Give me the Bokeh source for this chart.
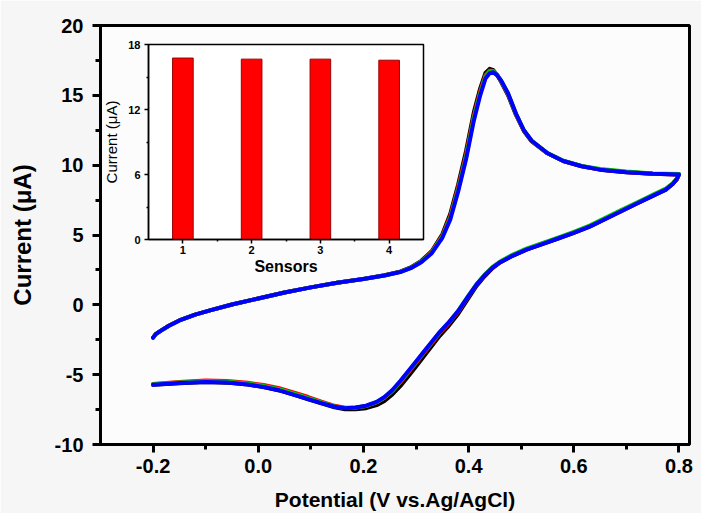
from bokeh.plotting import figure
from bokeh.models import (SingleIntervalTicker, FixedTicker, PrintfTickFormatter,
                          Range1d, ColumnDataSource)
from bokeh.embed import file_html
from bokeh.resources import INLINE

# ---------------- data ----------------
fwd_potential = [-0.200, -0.195, -0.185, -0.170, -0.150, -0.120, -0.090, -0.050, 0.000, 0.050,
                 0.100, 0.150, 0.200, 0.240, 0.270, 0.290, 0.310, 0.330, 0.350, 0.365,
                 0.380, 0.395, 0.410, 0.422, 0.432, 0.440, 0.447, 0.454, 0.462, 0.475,
                 0.490, 0.505, 0.520, 0.550, 0.580, 0.615, 0.650, 0.700, 0.750, 0.800]

fwd_sensor1 = [-2.35, -2.10, -1.85, -1.50, -1.12, -0.70, -0.38, 0.02, 0.45, 0.88,
               1.25, 1.58, 1.86, 2.12, 2.38, 2.68, 3.15, 3.85, 5.05, 6.50,
               8.60, 11.00, 13.80, 15.50, 16.60, 16.90, 16.80, 16.45, 15.95, 15.00,
               13.60, 12.45, 11.70, 10.85, 10.30, 9.92, 9.68, 9.50, 9.38, 9.33]
fwd_sensor2 = [-2.35, -2.10, -1.85, -1.50, -1.12, -0.70, -0.38, 0.02, 0.45, 0.88,
               1.25, 1.58, 1.85, 2.11, 2.37, 2.65, 3.10, 3.80, 4.95, 6.35,
               8.40, 10.75, 13.55, 15.30, 16.45, 16.78, 16.75, 16.48, 16.00, 15.08,
               13.65, 12.48, 11.72, 10.85, 10.30, 9.93, 9.69, 9.51, 9.39, 9.34]
fwd_sensor3 = [-2.35, -2.10, -1.85, -1.50, -1.12, -0.70, -0.38, 0.02, 0.45, 0.88,
               1.25, 1.58, 1.85, 2.10, 2.36, 2.64, 3.08, 3.75, 4.88, 6.22,
               8.25, 10.55, 13.40, 15.15, 16.35, 16.72, 16.72, 16.47, 16.03, 15.12,
               13.68, 12.50, 11.74, 10.86, 10.32, 9.95, 9.72, 9.54, 9.41, 9.36]
fwd_sensor4 = [-2.35, -2.10, -1.85, -1.50, -1.12, -0.70, -0.38, 0.02, 0.45, 0.88,
               1.25, 1.58, 1.85, 2.10, 2.35, 2.62, 3.05, 3.70, 4.80, 6.10,
               8.10, 10.40, 13.20, 15.00, 16.20, 16.58, 16.65, 16.45, 16.05, 15.15,
               13.70, 12.50, 11.75, 10.85, 10.30, 9.92, 9.68, 9.50, 9.38, 9.33]

rev_potential = [0.800, 0.796, 0.788, 0.775, 0.750, 0.720, 0.690, 0.660, 0.630, 0.600,
                 0.570, 0.540, 0.510, 0.480, 0.460, 0.445, 0.430, 0.415, 0.400, 0.380,
                 0.360, 0.345, 0.330, 0.315, 0.300, 0.285, 0.270, 0.255, 0.240, 0.225,
                 0.205, 0.185, 0.165, 0.145, 0.120, 0.095, 0.070, 0.040, 0.010, -0.020,
                 -0.060, -0.100, -0.150, -0.200]

rev_sensor1 = [9.33, 9.00, 8.65, 8.25, 7.80, 7.25, 6.70, 6.15, 5.60, 5.15,
               4.75, 4.35, 3.95, 3.44, 3.03, 2.61, 2.03, 1.35, 0.50, -0.65,
               -1.60, -2.22, -2.95, -3.68, -4.42, -5.13, -5.82, -6.42, -6.88, -7.18,
               -7.40, -7.48, -7.47, -7.34, -7.06, -6.76, -6.47, -6.13, -5.89, -5.71,
               -5.57, -5.53, -5.61, -5.73]
rev_sensor2 = [9.34, 9.02, 8.67, 8.28, 7.83, 7.28, 6.73, 6.18, 5.63, 5.18,
               4.78, 4.38, 3.98, 3.48, 3.07, 2.66, 2.10, 1.44, 0.62, -0.50,
               -1.42, -2.03, -2.75, -3.45, -4.16, -4.87, -5.55, -6.18, -6.66, -6.99,
               -7.25, -7.36, -7.37, -7.23, -6.93, -6.60, -6.30, -5.97, -5.74, -5.58,
               -5.45, -5.42, -5.52, -5.66]
rev_sensor3 = [9.36, 9.04, 8.70, 8.32, 7.88, 7.33, 6.78, 6.23, 5.68, 5.22,
               4.82, 4.42, 4.02, 3.52, 3.10, 2.70, 2.14, 1.48, 0.67, -0.44,
               -1.35, -1.96, -2.67, -3.38, -4.09, -4.80, -5.50, -6.14, -6.63, -6.97,
               -7.24, -7.36, -7.39, -7.27, -6.99, -6.68, -6.38, -6.04, -5.80, -5.63,
               -5.50, -5.47, -5.56, -5.68]
rev_sensor4 = [9.33, 9.00, 8.65, 8.25, 7.80, 7.25, 6.70, 6.15, 5.60, 5.15,
               4.75, 4.35, 3.95, 3.45, 3.05, 2.65, 2.10, 1.45, 0.65, -0.45,
               -1.35, -1.95, -2.65, -3.35, -4.05, -4.75, -5.45, -6.10, -6.60, -6.95,
               -7.22, -7.35, -7.40, -7.30, -7.04, -6.75, -6.46, -6.12, -5.88, -5.70,
               -5.56, -5.52, -5.60, -5.72]

sensor_colors = ["#000000", "#ff0000", "#00cc00", "#0000ff"]

inset_sensors = [1, 2, 3, 4]
inset_current = [16.75, 16.65, 16.65, 16.55]

# ---------------- main figure ----------------
FONT = "Liberation Sans"

p = figure(width=701, height=513, output_backend="svg", toolbar_location=None,
           x_range=Range1d(-0.3, 0.82), y_range=Range1d(-10, 20),
           min_border_left=100, min_border_right=12, min_border_top=25, min_border_bottom=69)
p.border_fill_color = "#f6f6f6"
p.background_fill_color = "#fcfcfc"
p.outline_line_color = "black"
p.outline_line_width = 3
p.grid.visible = False

fwd = [fwd_sensor1, fwd_sensor2, fwd_sensor3, fwd_sensor4]
rev = [rev_sensor1, rev_sensor2, rev_sensor3, rev_sensor4]
for f_i, r_i, c in zip(fwd, rev, sensor_colors):
    x = fwd_potential + rev_potential
    y = f_i + r_i
    p.line(x, y, line_color=c, line_width=4, line_join="round", line_cap="round")

for ax in (p.xaxis[0], p.yaxis[0]):
    ax.axis_line_width = 3
    ax.major_tick_line_width = 3
    ax.minor_tick_line_width = 3
    ax.major_tick_in = 0
    ax.minor_tick_in = 0
    ax.major_tick_out = 8
    ax.minor_tick_out = 5
    ax.major_label_text_font = FONT
    ax.major_label_text_font_style = "bold"
    ax.major_label_text_font_size = "20px"
    ax.major_label_text_color = "black"
    ax.axis_label_text_font = FONT
    ax.axis_label_text_font_style = "bold"
    ax.axis_label_text_color = "black"

p.xaxis.ticker = SingleIntervalTicker(interval=0.2, num_minor_ticks=2)
p.xaxis.formatter = PrintfTickFormatter(format="%.1f")
p.xaxis.axis_label = "Potential (V vs.Ag/AgCl)"
p.xaxis.axis_label_text_font_size = "21px"
p.xaxis.major_label_standoff = 6
p.xaxis.axis_label_standoff = 12

p.yaxis.ticker = SingleIntervalTicker(interval=5, num_minor_ticks=2)
p.yaxis.formatter = PrintfTickFormatter(format="%d")
p.yaxis.axis_label = "Current (\u03bcA)"
p.yaxis.axis_label_text_font_size = "24px"
p.yaxis.major_label_standoff = 9
p.yaxis.axis_label_standoff = 16

# ---------------- inset ----------------
ins = figure(frame_width=275, frame_height=195, output_backend="svg", toolbar_location=None,
             x_range=Range1d(0.5, 4.5), y_range=Range1d(0, 18),
             min_border_left=50, min_border_right=8, min_border_top=8, min_border_bottom=44)
ins.styles = {"position": "absolute", "left": "98px", "top": "36px", "z-index": "10"}
ins.border_fill_alpha = 0
ins.background_fill_color = "white"
ins.outline_line_color = "black"
ins.outline_line_width = 1.5
ins.grid.visible = False

src = ColumnDataSource(dict(sensor=inset_sensors, current=inset_current))
ins.vbar(x="sensor", top="current", width=0.3, bottom=0, source=src,
         fill_color="#ff0000", line_color="#990000", line_width=1)

for ax in (ins.xaxis[0], ins.yaxis[0]):
    ax.axis_line_width = 1.5
    ax.major_tick_line_width = 1.5
    ax.minor_tick_line_width = 1.5
    ax.major_tick_in = 0
    ax.minor_tick_in = 0
    ax.major_tick_out = 4
    ax.minor_tick_out = 2
    ax.major_label_text_font = FONT
    ax.major_label_text_font_style = "bold"
    ax.major_label_text_font_size = "11px"
    ax.major_label_text_color = "black"
    ax.axis_label_text_font = FONT
    ax.axis_label_text_color = "black"

ins.xaxis.ticker = FixedTicker(ticks=inset_sensors, minor_ticks=[1.5, 2.5, 3.5])
ins.xaxis.axis_label = "Sensors"
ins.xaxis.axis_label_text_font_style = "bold"
ins.xaxis.axis_label_text_font_size = "16px"
ins.xaxis.major_label_standoff = 2
ins.xaxis.axis_label_standoff = 1

ins.yaxis.ticker = FixedTicker(ticks=[0, 6, 12, 18], minor_ticks=[3, 9, 15])
ins.yaxis.axis_label = "Current (\u03bcA)"
ins.yaxis.axis_label_text_font_style = "normal"
ins.yaxis.axis_label_text_font_size = "15px"
ins.yaxis.major_label_standoff = 4
ins.yaxis.axis_label_standoff = 5

open("out.html", "w").write(file_html([p, ins], INLINE))
